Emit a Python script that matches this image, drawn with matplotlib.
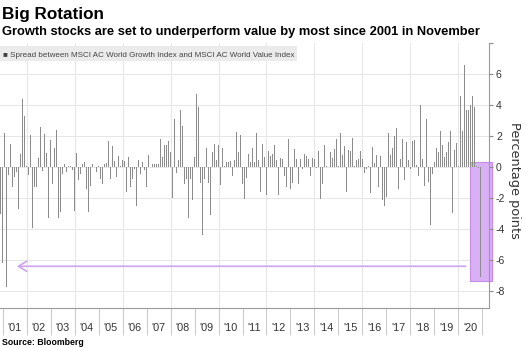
import numpy as np
import pandas as pd
import matplotlib
matplotlib.use("Agg")
import matplotlib.pyplot as plt
from matplotlib.patches import Rectangle

plt.rcParams['font.family'] = ['Liberation Sans', 'DejaVu Sans']
plt.rcParams['axes.unicode_minus'] = False

# monthly spread, growth minus value (pct points), Nov 2000 .. Nov 2020
spread = [
    -3.0, -6.2,                                                          # 2000 (Nov, Dec)
    2.2, -7.7, -0.5, 1.5, -1.3, -0.65, -0.3, -2.7, 0.85, 4.4, 3.3, 0.05,  # 2001
    -0.5, 2.1, -3.9, -1.3, -1.3, 0.6, 2.6, -0.25, 2.15, 0.9, -3.3, 1.75,  # 2002
    -1.1, 1.25, 2.4, -3.3, -2.9, -0.45, 0.2, -0.3, 0.05, 0.1, -0.2, -2.8,  # 2003
    0.9, -0.85, -0.45, 0.2, 0.3, -1.4, -2.9, -1.2, 0.2, 0.02, -0.3, 0.05,  # 2004
    -0.75, -1.1, 0.2, 0.25, 1.7, -0.75, 1.35, 0.4, -0.65, 0.7, 0.05, 0.45,  # 2005
    0.4, -1.6, 0.65, -1.25, -0.75, -0.1, -2.5, 0.45, -0.45, 0.3, -0.2, -1.3,  # 2006
    0.75, 0.02, 0.2, 0.2, 0.2, 0.2, 1.8, 0.65, 1.4, 1.45, 1.7, 0.95,  # 2007
    -2.0, 3.1, -0.4, 0.45, 3.65, 2.65, -1.1, -0.75, -3.25, -0.75, -2.1, 0.65,  # 2008
    4.7, 3.85, -1.05, -4.35, -0.75, 1.25, -1.05, -3.1, 0.95, 1.5, 0.45, 1.45,  # 2009
    -1.15, 1.25, 0.1, 0.35, 0.35, 0.4, -0.55, 0.45, 2.25, 0.95, 2.1, -1.1,  # 2010
    -2.05, -0.7, 0.85, 0.35, 1.25, 0.3, 2.2, 0.45, -1.6, 1.5, 0.65, -1.8,  # 2011
    1.05, 0.7, 0.85, 1.45, 0.45, -1.8, 0.6, 0.55, -0.55, -1.3, 1.8, -1.4,  # 2012
    -1.05, 1.15, 0.5, -1.1, 0.5, -0.1, 0.85, 0.7, 0.55, -0.6, 0.6, 0.5,  # 2013
    -0.05, 1.05, -2.05, -1.1, 1.45, 0.05, 0.03, 0.95, 0.6, 1.2, 1.8, 0.05,  # 2014
    2.2, 0.75, 1.35, -1.6, 1.1, 1.05, 1.9, 0.05, 0.45, 0.55, 1.05, 0.55,  # 2015
    -0.4, -0.1, 0.05, -1.7, 1.3, 0.25, 0.8, -1.3, 0.7, -2.15, -2.5, -1.95,  # 2016
    2.2, 0.8, 1.25, 2.0, 2.5, -1.4, 0.55, 1.8, -0.85, 1.65, 0.45, -0.1,  # 2017
    1.7, 1.75, 0.15, -0.55, 4.0, 0.5, -1.2, 3.1, -0.95, -3.75, -0.45, 0.3,  # 2018
    1.25, 0.95, 2.3, 1.45, 0.65, 0.95, 1.6, 2.3, -2.95, 1.1, 1.55, 0.05,  # 2019
    4.6, 2.3, 6.6, 3.7, 3.7, 4.0, 4.6, 3.85, 0.1, -0.05, -7.1,  # 2020
]
months = pd.date_range("2000-11-30", periods=len(spread), freq="ME")
years = list(range(2001, 2021))
year_labels = ["'%02d" % (y % 100) for y in years]
ytick_vals = list(range(-8, 9, 2))

# month-end positions as decimal years
t = months.year + months.month / 12.0

W, H = 526, 348
fig = plt.figure(figsize=(W / 100, H / 100), dpi=100)
ax = fig.add_axes([0, 40 / H, 489 / W, 265 / H])

ax.set_xlim(2000.887, 2021.279)
ax.set_ylim(-9.08, 8.0)

for v in range(-8, 7, 2):
    ax.axhline(v, color='#e6e6e6', lw=0.7, zorder=0)
for y in range(2002, 2021, 2):
    ax.axvline(y, color='#e6e6e6', lw=0.7, zorder=0)

# highlight box for November
ax.add_patch(Rectangle((2020.487, -7.37), 0.905, 7.69, facecolor='#d9aff5',
                       edgecolor='#c48ce6', lw=0.8, zorder=1, clip_on=False))

ax.bar(t, spread, width=0.72 / 12, color='#8c8c8c', zorder=3)

ax.annotate('', xy=(2001.47, -6.39), xytext=(2020.42, -6.39),
            arrowprops=dict(arrowstyle='->, head_length=0.5, head_width=0.3',
                            color='#cfa3f0', lw=1.2, mutation_scale=12),
            zorder=2)

for s in ['top', 'left']:
    ax.spines[s].set_visible(False)
for s in ['right', 'bottom']:
    ax.spines[s].set_color('#9a9a9a')
    ax.spines[s].set_linewidth(0.8)

ax.yaxis.tick_right()
ax.set_yticks(ytick_vals)
ax.set_yticklabels([str(v) if v < 8 else '' for v in ytick_vals])
ax.tick_params(axis='y', length=3, width=0.8, color='#8a8a8a', labelsize=7.5,
               labelcolor='#333333', pad=2)

ax.set_xticks(range(2001, 2022))
ax.set_xticklabels([])
ax.tick_params(axis='x', which='major', length=19.4, width=0.8, color='#cccccc')
ax.set_xticks([y + 0.5 for y in years], minor=True)
ax.set_xticklabels(year_labels, minor=True)
ax.tick_params(axis='x', which='minor', length=0, labelsize=7.8,
               labelcolor='#333333', pad=11)

# legend band
fig.add_artist(Rectangle((0, 1 - 61.3 / H), 296.7 / W, 15 / H, transform=fig.transFigure,
                         facecolor='#ebebeb', edgecolor='none'))
fig.text(3 / W, 1 - 57 / H,
         '\u25a0 Spread between MSCI AC World Growth Index and MSCI AC World Value Index',
         fontsize=5.8, color='#444444', va='baseline')

fig.text(2 / W, 1 - 19 / H, 'Big Rotation', fontsize=12.3, weight='bold', va='baseline')
fig.text(2 / W, 1 - 35.5 / H,
         'Growth stocks are set to underperform value by most since 2001 in November',
         fontsize=9.3, weight='bold', va='baseline')
fig.text(514 / W, 1 - 180 / H, 'Percentage points', rotation=270, fontsize=9.3,
         family='DejaVu Sans', color='#333333', ha='center', va='center')
fig.text(2 / W, 1 - 345 / H, 'Source: Bloomberg', fontsize=6.3, weight='bold',
         va='baseline')

fig.savefig('out.png', dpi=100)
